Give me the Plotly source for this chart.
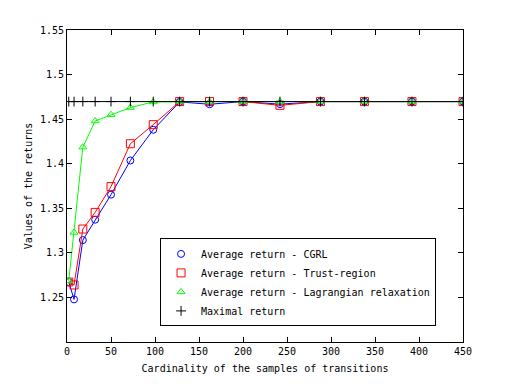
import plotly.graph_objects as go

# sample sizes (cardinality of the samples of transitions)
samples = [2, 8, 18, 32, 50, 72, 98, 128, 162, 200, 242, 288, 338, 392, 450]

cgrl = [1.2673, 1.2478, 1.3143, 1.3372, 1.3653, 1.4036, 1.4381, 1.4693,
        1.4667, 1.4697, 1.4668, 1.4697, 1.4697, 1.4697, 1.4697]
trust_region = [1.2673, 1.2640, 1.3267, 1.3454, 1.3743, 1.4224, 1.4438, 1.4697,
                1.4697, 1.4697, 1.4655, 1.4697, 1.4697, 1.4697, 1.4697]
lagrangian = [1.2685, 1.3229, 1.4186, 1.4479, 1.4550, 1.4630, 1.4693, 1.4697,
              1.4697, 1.4697, 1.4697, 1.4697, 1.4697, 1.4697, 1.4697]
maximal = [1.4697] * len(samples)

names = ['Average return - CGRL', 'Average return - Trust-region',
         'Average return - Lagrangian relaxation', 'Maximal return']
series = [cgrl, trust_region, lagrangian, maximal]
colors = ['#0000ff', '#ff0000', '#00ff00', '#000000']
symbols = ['circle-open', 'square-open', 'triangle-up-open', 'cross-thin-open']
sizes = [7, 8, 7, 7]

FONT = 'DejaVu Sans Mono'

fig = go.Figure()
for vals, name, color, symbol, size in zip(series, names, colors, symbols, sizes):
    # line without legend entry, markers with legend (legend shows markers only)
    fig.add_trace(go.Scatter(x=samples, y=vals, mode='lines', showlegend=False,
                             line=dict(color=color, width=1), hoverinfo='skip'))
    fig.add_trace(go.Scatter(x=samples, y=vals, mode='markers', name=name,
                             marker=dict(symbol=symbol, size=size, color=color,
                                         line=dict(color=color, width=1))))

axis_common = dict(showline=True, linecolor='black', linewidth=1, mirror='ticks',
                   ticks='inside', ticklen=5, tickcolor='black', showgrid=False,
                   zeroline=False, tickfont=dict(family=FONT, size=10, color='black'))

# page body has an 8px margin, so the figure is a bit smaller than the window
fig.update_layout(
    width=504, height=376,
    margin=dict(l=59, r=49, t=22, b=42),
    paper_bgcolor='white', plot_bgcolor='white',
    font=dict(family=FONT, size=10, color='black'),
    xaxis=dict(range=[0, 450], tickvals=list(range(0, 451, 50)),
               title=dict(text='Cardinality of the samples of transitions',
                          font=dict(family=FONT, size=10), standoff=8),
               **axis_common),
    yaxis=dict(range=[1.2, 1.55], tickvals=[1.25, 1.3, 1.35, 1.4, 1.45, 1.5, 1.55],
               ticktext=['1.25', '1.3', '1.35', '1.4', '1.45', '1.5', '1.55'],
               title=dict(text='Values of the returns',
                          font=dict(family=FONT, size=10), standoff=5),
               **axis_common),
    legend=dict(x=0.235, y=0.05, xanchor='left', yanchor='bottom',
                bgcolor='white', bordercolor='black', borderwidth=1,
                font=dict(family=FONT, size=10, color='black'),
                tracegroupgap=0),
    showlegend=True,
)

fig.write_html('out.html')
